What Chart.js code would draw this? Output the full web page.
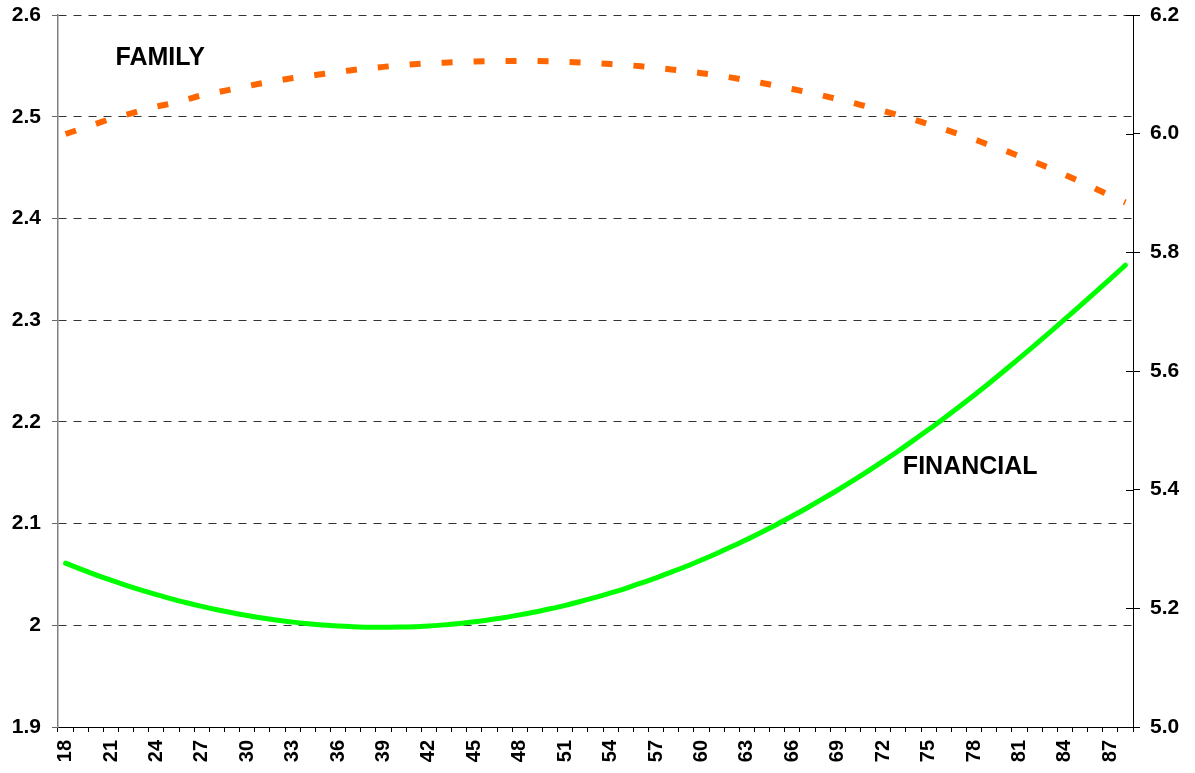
<!DOCTYPE html>
<html>
<head>
<meta charset="utf-8">
<script src="https://cdn.jsdelivr.net/npm/chart.js@4"></script>
<style>
  body { margin: 0; background: #fff; }
  #wrap { width: 1195px; height: 773px; }
</style>
</head>
<body>
<div id="wrap"><canvas id="myChart" width="1195" height="773"></canvas></div>
<script>
// ages 18..88
const ages = [];
for (let a = 18; a <= 88; a++) ages.push(String(a));

const family = [
    2.483, 2.488, 2.493, 2.498, 2.502, 2.506, 2.510, 2.513, 2.517, 2.521,
    2.524, 2.527, 2.530, 2.533, 2.5355, 2.538, 2.540, 2.542, 2.544, 2.546,
    2.5475, 2.549, 2.5505, 2.5516, 2.5524, 2.5531, 2.5537, 2.5542, 2.5546, 2.5548,
    2.5549, 2.5548, 2.5545, 2.554, 2.5534, 2.5527, 2.5518, 2.5508, 2.5496, 2.548,
    2.5465, 2.5447, 2.5428, 2.5407, 2.5384, 2.5358, 2.5332, 2.5302, 2.5272, 2.5241,
    2.5208, 2.5172, 2.5137, 2.5098, 2.5058, 2.5016, 2.4973, 2.4926, 2.4878, 2.4829,
    2.4779, 2.4722, 2.467, 2.4612, 2.4554, 2.4494, 2.4429, 2.4362, 2.4295, 2.4224,
    2.4157
];

const financial = [
    2.0611, 2.0552, 2.0496, 2.0443, 2.0393, 2.0346, 2.0302, 2.0260, 2.0222, 2.0186,
    2.0153, 2.0123, 2.0096, 2.0072, 2.0050, 2.0031, 2.0016, 2.0003, 1.9993, 1.9986,
    1.9981, 1.9980, 1.9982, 1.9986, 1.9994, 2.0004, 2.0018, 2.0034, 2.0054, 2.0076,
    2.0102, 2.0130, 2.0162, 2.0196, 2.0234, 2.0274, 2.0318, 2.0364, 2.0414, 2.0466,
    2.0522, 2.0580, 2.0642, 2.0706, 2.0774, 2.0844, 2.0918, 2.0994, 2.1074, 2.1156,
    2.1242, 2.1330, 2.1422, 2.1516, 2.1614, 2.1714, 2.1818, 2.1924, 2.2034, 2.2146,
    2.2262, 2.2380, 2.2502, 2.2626, 2.2752, 2.2880, 2.3010, 2.3141, 2.3273, 2.3406,
    2.3540
];

// text labels placed in data units (category index, left-axis value)
const seriesLabels = [
    { text: 'FAMILY', x: 3.3, y: 2.558 },
    { text: 'FINANCIAL', x: 55.3, y: 2.1556 }
];

const boldFont = (size) => ({ family: 'Arial, "Liberation Sans", sans-serif', size: size, weight: 'bold' });

const labelPlugin = {
    id: 'seriesLabels',
    afterDatasetsDraw(chart) {
        const c = chart.ctx;
        const xs = chart.scales.x, ys = chart.scales.y;
        c.save();
        c.fillStyle = '#000';
        c.font = 'bold 25px Arial, "Liberation Sans", sans-serif';
        c.textAlign = 'left';
        c.textBaseline = 'middle';
        seriesLabels.forEach(l => {
            c.fillText(l.text, xs.getPixelForValue(l.x), ys.getPixelForValue(l.y));
        });
        // right axis ticks cross the axis line
        const r = chart.scales.y2;
        c.strokeStyle = '#000';
        c.lineWidth = 1;
        c.beginPath();
        r.ticks.forEach(t => {
            const py = Math.round(r.getPixelForValue(t.value)) + 0.5;
            c.moveTo(r.left - 7, py);
            c.lineTo(r.left, py);
        });
        c.stroke();
        c.restore();
    }
};

const ctx = document.getElementById('myChart').getContext('2d');
const myChart = new Chart(ctx, {
    type: 'line',
    data: {
        labels: ages,
        datasets: [{
            label: 'FAMILY',
            data: family,
            borderColor: '#FF6600',
            borderWidth: 6,
            borderDash: [11, 21],
            borderCapStyle: 'butt',
            pointRadius: 0,
            cubicInterpolationMode: 'monotone',
            yAxisID: 'y'
        }, {
            label: 'FINANCIAL',
            data: financial,
            borderColor: '#00FF00',
            borderWidth: 5,
            borderCapStyle: 'round',
            pointRadius: 0,
            cubicInterpolationMode: 'monotone',
            yAxisID: 'y'
        }]
    },
    options: {
        responsive: false,
        animation: false,
        layout: { padding: { top: 15, left: 0, right: 0, bottom: 0 } },
        plugins: {
            legend: { display: false },
            tooltip: { enabled: false }
        },
        scales: {
            x: {
                offset: true,
                grid: {
                    offset: true,
                    drawOnChartArea: false,
                    color: '#000',
                    tickLength: 5
                },
                border: { color: '#000', width: 1 },
                ticks: {
                    autoSkip: false,
                    maxRotation: 90,
                    minRotation: 90,
                    padding: 8,
                    color: '#000',
                    font: boldFont(20),
                    callback: function (val, i) {
                        return (i % 3 === 0) ? ages[i] : '';
                    }
                },
                afterFit: s => { s.height = 46; }
            },
            y: {
                position: 'left',
                min: 1.9,
                max: 2.6,
                grid: {
                    color: '#333',
                    tickColor: '#666',
                    tickBorderDash: [],
                    tickLength: 6
                },
                border: { color: '#808080', width: 1.5, dash: [8, 7] },
                ticks: {
                    stepSize: 0.1,
                    padding: 11,
                    color: '#000',
                    font: boldFont(21),
                    callback: v => String(+v.toFixed(1))
                },
                afterFit: s => { s.width = 58; s.paddingTop = 0; s.paddingBottom = 0; }
            },
            y2: {
                position: 'right',
                min: 5.0,
                max: 6.2,
                grid: {
                    drawOnChartArea: false,
                    color: '#000',
                    tickLength: 7
                },
                border: { color: '#000', width: 1 },
                ticks: {
                    stepSize: 0.2,
                    padding: 10,
                    color: '#000',
                    font: boldFont(21),
                    callback: v => v.toFixed(1)
                },
                afterFit: s => { s.width = 62; s.paddingTop = 0; s.paddingBottom = 0; }
            }
        }
    },
    plugins: [labelPlugin]
});
</script>
</body>
</html>
